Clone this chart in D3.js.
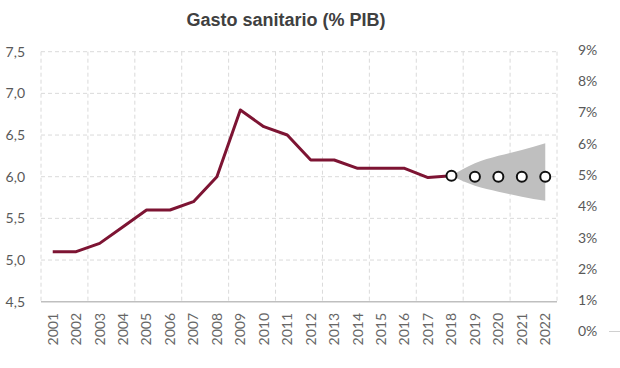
<!DOCTYPE html>
<html>
<head>
<meta charset="utf-8">
<script src="https://cdn.jsdelivr.net/npm/d3@7"></script>
<style>
  body { margin: 0; background: #fff; }
  svg { display: block; }
</style>
</head>
<body>
<script>
// data
const years = ['2001','2002','2003','2004','2005','2006','2007','2008','2009','2010','2011',
  '2012','2013','2014','2015','2016','2017','2018','2019','2020','2021','2022']
const actual = [5.1, 5.1, 5.2, 5.4, 5.6, 5.6, 5.7, 6.0, 6.8, 6.6, 6.5,
  6.2, 6.2, 6.1, 6.1, 6.1, 5.99, 6.01]
const forecastYears = ['2018','2019','2020','2021','2022']
const forecast = [6.01, 6.0, 6.0, 6.0, 6.0]
const fanUpper = [6.01, 6.16, 6.25, 6.32, 6.40]
const fanLower = [6.01, 5.89, 5.82, 5.76, 5.71]
const leftTicks = [4.5, 5.0, 5.5, 6.0, 6.5, 7.0, 7.5]
const rightTicks = [0, 1, 2, 3, 4, 5, 6, 7, 8, 9]

const width = 620, height = 368
const box = { left: 41, right: 557, top: 51.7, bottom: 301.7 }

const svg = d3.select('body').append('svg')
  .attr('width', width).attr('height', height)

const x = d3.scaleBand().domain(years).range([box.left, box.right]).padding(0)
const y = d3.scaleLinear().domain([4.5, 7.5]).range([box.bottom, box.top])
const yr = d3.scaleLinear().domain([0, 9]).range([331.5, 50])
const cx = d => x(d) + x.bandwidth() / 2

// grid
const grid = svg.append('g')
grid.selectAll('line.h').data(leftTicks.slice(1)).join('line')
  .attr('x1', box.left).attr('x2', box.right)
  .attr('y1', d => y(d)).attr('y2', d => y(d))
  .attr('stroke', '#dadada').attr('stroke-dasharray', '4,3')
const vx = years.filter((d, i) => i % 2 === 0).map(d => x(d)).concat([box.right])
grid.selectAll('line.v').data(vx).join('line')
  .attr('x1', d => d).attr('x2', d => d)
  .attr('y1', box.top).attr('y2', box.bottom)
  .attr('stroke', '#dadada').attr('stroke-dasharray', '4,3')

// base axis line
svg.append('line')
  .attr('x1', box.left).attr('x2', box.right)
  .attr('y1', y(4.5)).attr('y2', y(4.5))
  .attr('stroke', '#bfbfbf').attr('stroke-width', 1.5)

// left labels
svg.append('g').selectAll('text').data(leftTicks).join('text')
  .attr('x', 25).attr('y', d => y(d)).attr('dy', '0.35em')
  .attr('text-anchor', 'end')
  .style('font', '14px Lato, sans-serif').attr('fill', '#595959')
  .text(d => d3.format('.1f')(d).replace('.', ','))

// right labels
svg.append('g').selectAll('text').data(rightTicks).join('text')
  .attr('x', 578).attr('y', d => yr(d)).attr('dy', '0.35em')
  .style('font', '14px Lato, sans-serif').attr('fill', '#595959')
  .text(d => d + '%')
svg.append('line')
  .attr('x1', 609).attr('x2', 620).attr('y1', yr(0)).attr('y2', yr(0))
  .attr('stroke', '#d0d0d0')

// year labels
svg.append('g').selectAll('text').data(years).join('text')
  .attr('transform', d => `translate(${cx(d)},313) rotate(-90)`)
  .attr('dy', '0.35em').attr('text-anchor', 'end')
  .style('font', '14px Lato, sans-serif').attr('fill', '#666')
  .text(d => d)

// fan
const fanData = forecastYears.map((d, i) => ({ yr: d, hi: fanUpper[i], lo: fanLower[i] }))
svg.append('path')
  .datum(fanData)
  .attr('d', d3.area().curve(d3.curveMonotoneX)
    .x(d => cx(d.yr)).y0(d => y(d.lo)).y1(d => y(d.hi)))
  .attr('fill', '#bfbfbf')

// actual line
svg.append('path')
  .datum(actual)
  .attr('d', d3.line().x((d, i) => cx(years[i])).y(d => y(d)))
  .attr('fill', 'none').attr('stroke', '#7d1433').attr('stroke-width', 3)
  .attr('stroke-linejoin', 'round')

// forecast points
svg.append('g').selectAll('circle').data(forecast).join('circle')
  .attr('cx', (d, i) => cx(forecastYears[i])).attr('cy', d => y(d))
  .attr('r', 5).attr('fill', '#fff').attr('stroke', '#111').attr('stroke-width', 2)

// title
svg.append('text')
  .attr('x', 286).attr('y', 26).attr('text-anchor', 'middle')
  .style('font', 'bold 18px "Liberation Sans", Arial, sans-serif').attr('fill', '#404040')
  .text('Gasto sanitario (% PIB)')
</script>
</body>
</html>
